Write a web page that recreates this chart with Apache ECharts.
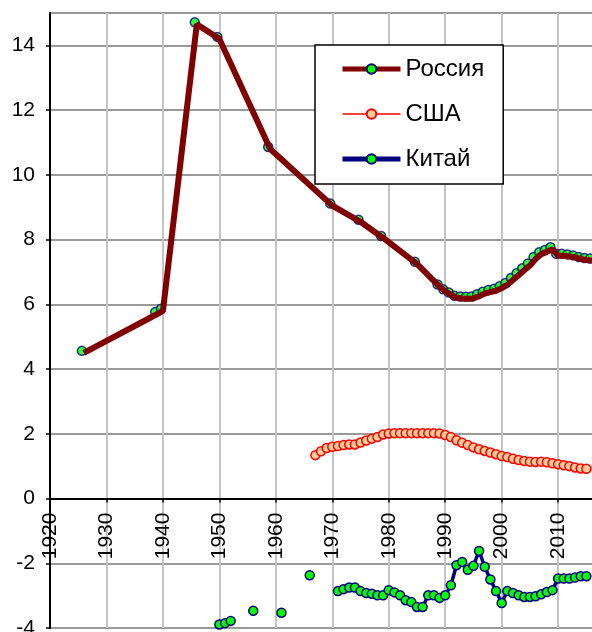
<!DOCTYPE html>
<html>
<head>
<meta charset="utf-8">
<script src="https://cdn.jsdelivr.net/npm/echarts@6/dist/echarts.min.js"></script>
<style>
  html, body { margin: 0; padding: 0; background: #fff; }
  #main { width: 592px; height: 632px; }
</style>
</head>
<body>
<div id="main"></div>
<script>
// data
const russiaYears = [1926, 1939, 1940, 1946, 1950, 1959, 1970, 1975, 1979, 1985,
  1989, 1990, 1991, 1992, 1993, 1994, 1995, 1996, 1997, 1998, 1999,
  2000, 2001, 2002, 2003, 2004, 2005, 2006, 2007, 2008, 2009,
  2010, 2011, 2012, 2013, 2014, 2015, 2016];
const russiaValues = [4.5, 5.7, 5.8, 14.65, 14.2, 10.8, 9.05, 8.55, 8.05, 7.25,
  6.55, 6.4, 6.3, 6.2, 6.18, 6.17, 6.18, 6.25, 6.33, 6.38, 6.42,
  6.5, 6.6, 6.75, 6.9, 7.05, 7.2, 7.4, 7.55, 7.62, 7.7,
  7.5, 7.5, 7.48, 7.45, 7.4, 7.37, 7.35];

const usaYears = [1967, 1968, 1969, 1970, 1971, 1972, 1973, 1974, 1975, 1976,
  1977, 1978, 1979, 1980, 1981, 1982, 1983, 1984, 1985, 1986,
  1987, 1988, 1989, 1990, 1991, 1992, 1993, 1994, 1995, 1996,
  1997, 1998, 1999, 2000, 2001, 2002, 2003, 2004, 2005, 2006,
  2007, 2008, 2009, 2010, 2011, 2012, 2013, 2014, 2015];
const usaValues = [1.34, 1.46, 1.56, 1.6, 1.62, 1.65, 1.67, 1.67, 1.73, 1.79,
  1.85, 1.9, 1.98, 2.01, 2.02, 2.02, 2.02, 2.02, 2.02, 2.02,
  2.02, 2.02, 2.01, 1.96, 1.9, 1.8, 1.72, 1.65, 1.58, 1.52,
  1.47, 1.42, 1.37, 1.31, 1.28, 1.23, 1.19, 1.16, 1.14, 1.13,
  1.14, 1.12, 1.09, 1.06, 1.03, 1.0, 0.96, 0.93, 0.92];

const chinaYears = [1950, 1951, 1952, 1956, 1961, 1966,
  1971, 1972, 1973, 1974, 1975, 1976, 1977, 1978, 1979, 1980,
  1981, 1982, 1983, 1984, 1985, 1986, 1987, 1988, 1989, 1990,
  1991, 1992, 1993, 1994, 1995, 1996, 1997, 1998, 1999, 2000,
  2001, 2002, 2003, 2004, 2005, 2006, 2007, 2008, 2009, 2010,
  2011, 2012, 2013, 2014, 2015];
const chinaValues = [-3.89, -3.85, -3.78, -3.47, -3.53, -2.37,
  -2.86, -2.8, -2.75, -2.75, -2.86, -2.92, -2.94, -2.99, -2.99, -2.83,
  -2.9, -2.99, -3.14, -3.2, -3.35, -3.35, -2.99, -2.99, -3.07, -2.99,
  -2.68, -2.06, -1.96, -2.2, -2.08, -1.62, -2.11, -2.5, -2.86, -3.23,
  -2.86, -2.92, -2.99, -3.04, -3.04, -3.02, -2.96, -2.89, -2.83, -2.47,
  -2.47, -2.47, -2.44, -2.4, -2.4];

const seriesNames = ['Россия', 'США', 'Китай'];

function pairs(xs, ys) {
  return xs.map((x, i) => [x, ys[i]]);
}
// break the line where years are missing (empty cells shown as gaps)
function pairsWithGaps(xs, ys) {
  const out = [];
  xs.forEach((x, i) => {
    if (i > 0 && x - xs[i - 1] > 1) out.push([xs[i - 1] + 1, '-']);
    out.push([x, ys[i]]);
  });
  return out;
}

const FONT = 'Liberation Sans, Arial, sans-serif';
const green = '#00ff00', navy = '#000080', maroon = '#800000';

const W = 592, H = 632;
const gridTop = 13, gridBottom = 4;
const yMin = -4, yMax = 15;
// the x axis sits on y = 0, so lift it from the bottom of the plot
const xAxisOffset = -(0 - yMin) * (H - gridTop - gridBottom) / (yMax - yMin);

const chart = echarts.init(document.getElementById('main'), null, { renderer: 'canvas' });

chart.setOption({
  animation: false,
  backgroundColor: '#fff',
  grid: { left: 50, right: 0, top: gridTop, bottom: gridBottom, containLabel: false, outerBoundsMode: 'none' },
  legend: {
    data: [
      { name: seriesNames[0], lineStyle: { width: 5 } },
      { name: seriesNames[1], lineStyle: { width: 1.5 } },
      { name: seriesNames[2], lineStyle: { width: 5 } }
    ],
    orient: 'vertical',
    left: 315,
    top: 45,
    itemWidth: 58,
    itemHeight: 12,
    itemGap: 21,
    padding: [12, 19, 13, 25],
    borderColor: '#000',
    borderWidth: 1.5,
    backgroundColor: '#fff',
    textStyle: { fontSize: 24, fontFamily: FONT, color: '#000' }
  },
  xAxis: {
    type: 'value',
    position: 'bottom',
    offset: xAxisOffset,
    min: 1920,
    max: 2016,
    interval: 10,
    axisLine: { onZero: false, lineStyle: { color: '#000', width: 2 } },
    axisTick: { show: true, length: 4, lineStyle: { color: '#000', width: 1.5 } },
    axisLabel: {
      rotate: 90, margin: 14, fontSize: 21, fontFamily: FONT, color: '#000',
      showMaxLabel: false, hideOverlap: false,
      formatter: v => String(v)
    },
    splitLine: { show: true, showMaxLine: false, lineStyle: { color: '#c4c4c4', width: 2 } }
  },
  yAxis: {
    type: 'value',
    min: yMin,
    max: yMax,
    interval: 2,
    axisLine: { show: true, onZero: false, lineStyle: { color: '#000', width: 2 } },
    axisTick: { show: true, length: 4, lineStyle: { color: '#000', width: 1.5 } },
    axisLabel: { margin: 15, fontSize: 21, fontFamily: FONT, color: '#000', showMaxLabel: false },
    splitLine: { show: true, lineStyle: { color: '#999', width: 2 } }
  },
  series: [
    {
      name: 'Россия (точки)',
      type: 'scatter',
      data: pairs(russiaYears, russiaValues),
      symbol: 'circle',
      symbolSize: 9,
      symbolOffset: [-2, -2],
      itemStyle: { color: green, borderColor: navy, borderWidth: 1.5 },
      z: 2
    },
    {
      name: seriesNames[0],
      type: 'line',
      data: pairs(russiaYears, russiaValues),
      symbol: 'circle',
      symbolSize: 9,
      showSymbol: false,
      itemStyle: { color: green, borderColor: navy, borderWidth: 1.5 },
      lineStyle: { color: maroon, width: 6 },
      z: 3
    },
    {
      name: seriesNames[1],
      type: 'line',
      data: pairs(usaYears, usaValues),
      symbol: 'circle',
      symbolSize: 9,
      itemStyle: { color: '#ffcc99', borderColor: '#ff0000', borderWidth: 1.5 },
      lineStyle: { color: '#ff0000', width: 1.5 },
      z: 3
    },
    {
      name: seriesNames[2],
      type: 'line',
      data: pairsWithGaps(chinaYears, chinaValues),
      symbol: 'circle',
      symbolSize: 9,
      connectNulls: false,
      itemStyle: { color: green, borderColor: navy, borderWidth: 1.5 },
      lineStyle: { color: navy, width: 3.5 },
      z: 3
    }
  ]
});
</script>
</body>
</html>
